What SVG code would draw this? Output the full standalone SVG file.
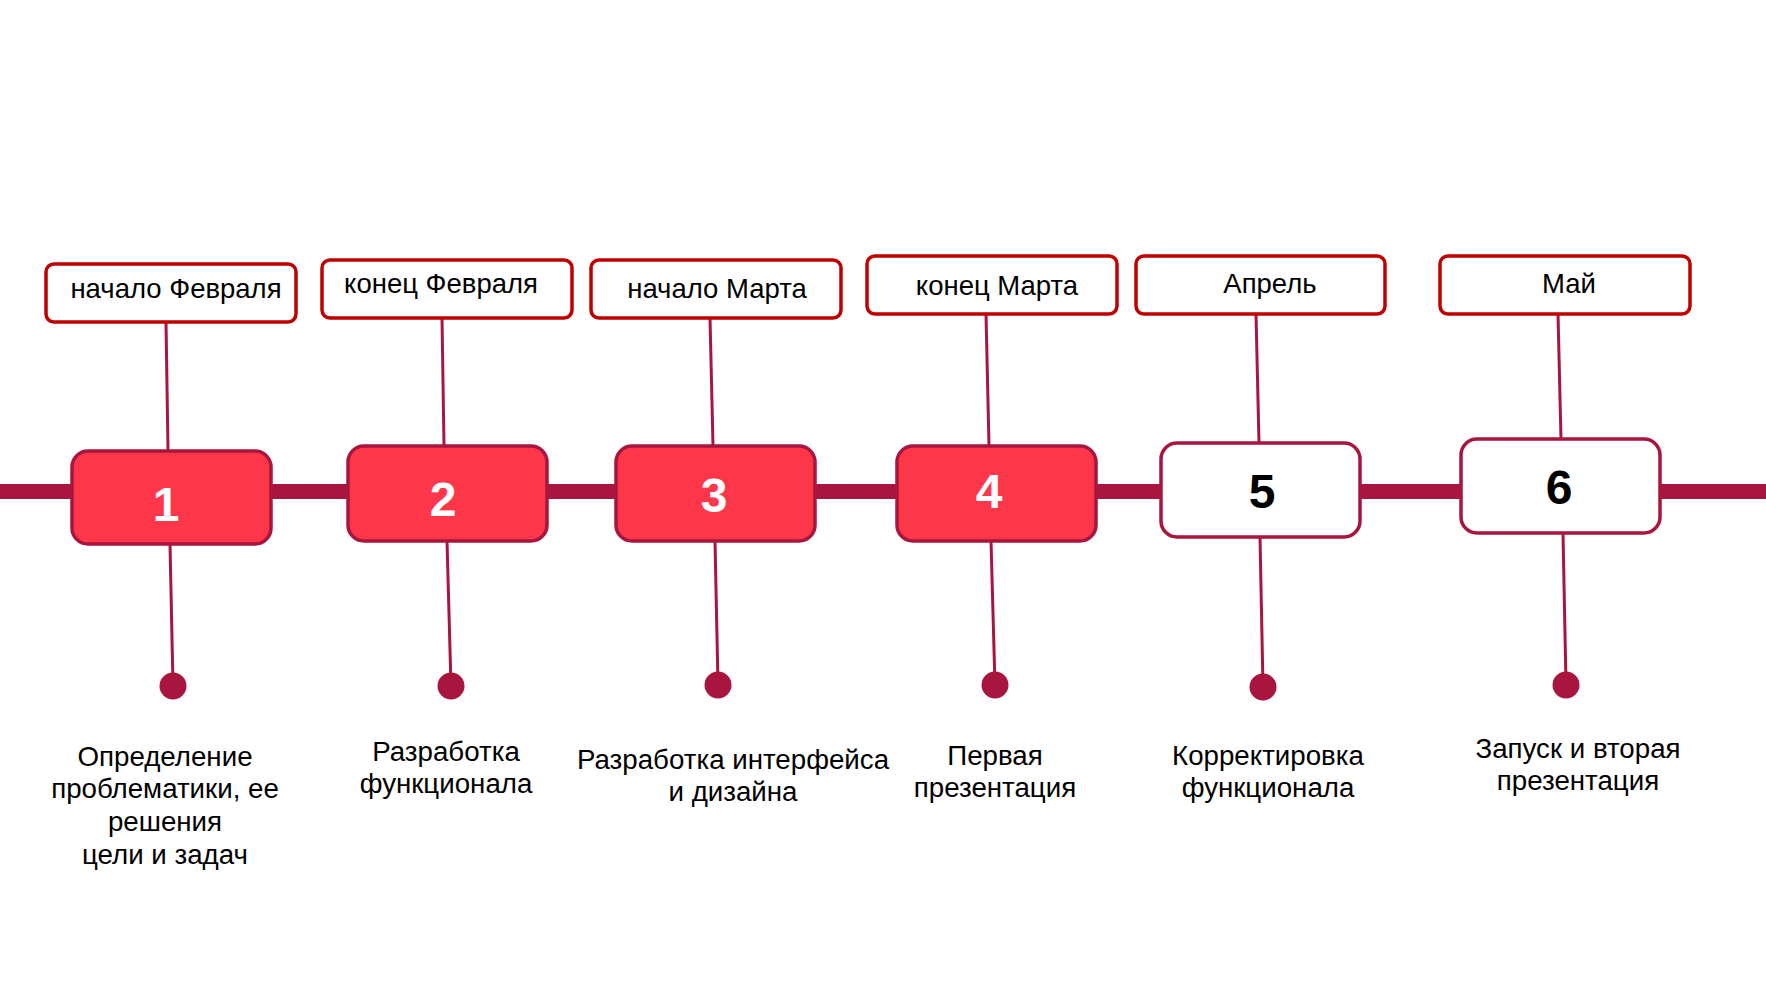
<svg xmlns="http://www.w3.org/2000/svg" width="1766" height="992" viewBox="0 0 1766 992">
<style>
.lbl{fill:#fff;stroke:#c00000;stroke-width:3.5}
.lt{font-family:"Liberation Sans",Arial,sans-serif;font-size:27.5px;fill:#000;text-anchor:middle}
.red{fill:#fe3649;stroke:#a8163f;stroke-width:3.5}
.wht{fill:#fff;stroke:#a8163f;stroke-width:3.5}
.num{font-family:"Liberation Sans",Arial,sans-serif;font-size:48px;font-weight:bold;text-anchor:middle}
.nw{fill:#fff}
.nb{fill:#000}
.con{stroke:#a8163f;stroke-width:3;fill:none}
.dot{fill:#a8163f}
.desc{font-family:"Liberation Sans",Arial,sans-serif;font-size:27.7px;fill:#000;text-anchor:middle}
</style>
<rect width="1766" height="992" fill="#fff"/>
<g id="connectors">
<line x1="0" y1="491.5" x2="1766" y2="491.5" stroke="#a8163f" stroke-width="15"/>
<line class="con" x1="166" y1="322" x2="168" y2="451"/>
<line class="con" x1="442" y1="318" x2="444" y2="446"/>
<line class="con" x1="710" y1="318" x2="713" y2="446"/>
<line class="con" x1="986" y1="314" x2="989" y2="446"/>
<line class="con" x1="1256" y1="314" x2="1259" y2="443"/>
<line class="con" x1="1558" y1="314" x2="1561" y2="439"/>
<line class="con" x1="170" y1="544" x2="173" y2="686"/>
<line class="con" x1="447" y1="541" x2="451" y2="686"/>
<line class="con" x1="715" y1="541" x2="718" y2="685"/>
<line class="con" x1="991" y1="541" x2="995" y2="685"/>
<line class="con" x1="1260" y1="537" x2="1263" y2="687"/>
<line class="con" x1="1563" y1="533" x2="1566" y2="685"/>
<circle class="dot" cx="173" cy="686" r="13.5"/>
<circle class="dot" cx="451" cy="686" r="13.5"/>
<circle class="dot" cx="718" cy="685" r="13.5"/>
<circle class="dot" cx="995" cy="685" r="13.5"/>
<circle class="dot" cx="1263" cy="687" r="13.5"/>
<circle class="dot" cx="1566" cy="685" r="13.5"/>
</g>
<g id="label1"><rect class="lbl" x="46" y="264" width="250" height="58" rx="8"/><text class="lt" x="176" y="298">начало Февраля</text></g>
<g id="label2"><rect class="lbl" x="322" y="260" width="250" height="58" rx="8"/><text class="lt" x="441" y="293">конец Февраля</text></g>
<g id="label3"><rect class="lbl" x="591" y="260" width="250" height="58" rx="8"/><text class="lt" x="717" y="298">начало Марта</text></g>
<g id="label4"><rect class="lbl" x="867" y="256" width="250" height="58" rx="8"/><text class="lt" x="997" y="295">конец Марта</text></g>
<g id="label5"><rect class="lbl" x="1136" y="256" width="249" height="58" rx="8"/><text class="lt" x="1270" y="293">Апрель</text></g>
<g id="label6"><rect class="lbl" x="1440" y="256" width="250" height="58" rx="8"/><text class="lt" x="1569" y="293">Май</text></g>
<g id="step1"><rect class="red" x="72" y="451" width="199" height="93" rx="16"/><text class="num nw" x="166" y="521">1</text></g>
<g id="step2"><rect class="red" x="348" y="446" width="199" height="95" rx="16"/><text class="num nw" x="443" y="516">2</text></g>
<g id="step3"><rect class="red" x="616" y="446" width="199" height="95" rx="16"/><text class="num nw" x="714" y="512">3</text></g>
<g id="step4"><rect class="red" x="897" y="446" width="199" height="95" rx="16"/><text class="num nw" x="989" y="508">4</text></g>
<g id="step5"><rect class="wht" x="1161" y="443" width="199" height="94" rx="16"/><text class="num nb" x="1262" y="508">5</text></g>
<g id="step6"><rect class="wht" x="1461" y="439" width="199" height="94" rx="16"/><text class="num nb" x="1559" y="504">6</text></g>
<g id="desc1"><text class="desc" x="165" y="766">Определение</text><text class="desc" x="165" y="798">проблематики, ее</text><text class="desc" x="165" y="831">решения</text><text class="desc" x="165" y="864">цели и задач</text></g>
<g id="desc2"><text class="desc" x="446" y="761">Разработка</text><text class="desc" x="446" y="793">функционала</text></g>
<g id="desc3"><text class="desc" x="733" y="769">Разработка интерфейса</text><text class="desc" x="733" y="801">и дизайна</text></g>
<g id="desc4"><text class="desc" x="995" y="765">Первая</text><text class="desc" x="995" y="797">презентация</text></g>
<g id="desc5"><text class="desc" x="1268" y="765">Корректировка</text><text class="desc" x="1268" y="797">функционала</text></g>
<g id="desc6"><text class="desc" x="1578" y="758">Запуск и вторая</text><text class="desc" x="1578" y="790">презентация</text></g>
</svg>
